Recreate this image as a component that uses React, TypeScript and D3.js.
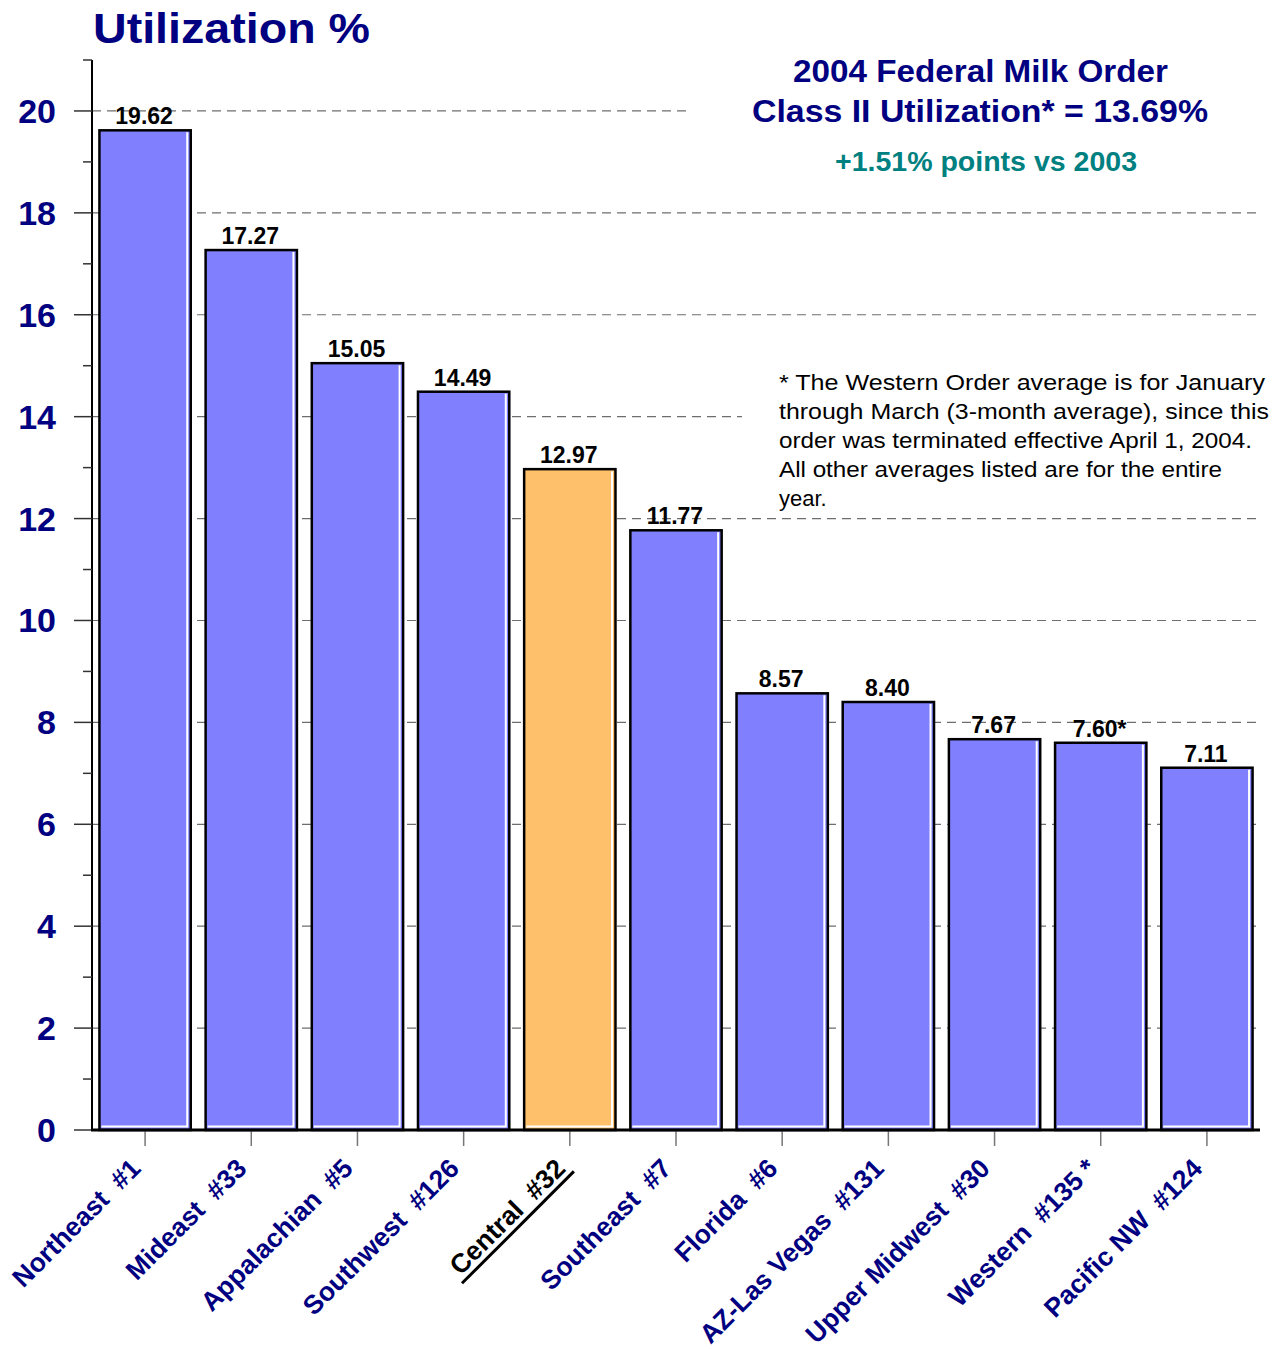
import React, { useEffect, useRef } from "react";
import * as d3 from "d3";

const categories = [
  "Northeast  #1",
  "Mideast  #33",
  "Appalachian  #5",
  "Southwest  #126",
  "Central  #32",
  "Southeast  #7",
  "Florida  #6",
  "AZ-Las Vegas  #131",
  "Upper Midwest  #30",
  "Western  #135 *",
  "Pacific NW  #124",
];
const values = [19.62, 17.27, 15.05, 14.49, 12.97, 11.77, 8.57, 8.4, 7.67, 7.6, 7.11];
const valueLabels = ["19.62", "17.27", "15.05", "14.49", "12.97", "11.77", "8.57", "8.40", "7.67", "7.60*", "7.11"];
const highlighted = ["Central  #32"];
const yMajorTicks = [0, 2, 4, 6, 8, 10, 12, 14, 16, 18, 20];
const yMinorTicks = [1, 3, 5, 7, 9, 11, 13, 15, 17, 19, 21];
const gridValues = [2, 4, 6, 8, 10, 12, 14, 16, 18, 20];
const yTitle = "Utilization %";
const titleLines = ["2004 Federal Milk Order", "Class II Utilization* = 13.69%"];
const subtitle = "+1.51% points vs 2003";
const footnoteLines = [
  "* The Western Order average is for January",
  "through March (3-month average), since this",
  "order was terminated effective April 1, 2004.",
  "All other averages listed are for the entire",
  "year.",
];

const W = 1280;
const H = 1349;
const FONT = "'Liberation Sans', Arial, Helvetica, sans-serif";
const NAVY = "#000080";
const TEAL = "#008080";

export default function App() {
  const ref = useRef<SVGSVGElement | null>(null);

  useEffect(() => {
    const svg = d3.select(ref.current);
    svg.selectAll("*").remove();

    const x = d3.scaleBand<string>().domain(categories).range([92, 1260]).paddingInner(0.14).paddingOuter(0.07);
    const y = d3.scaleLinear().domain([0, 21]).range([1130, 60]);

    svg.append("rect").attr("width", W).attr("height", H).attr("fill", "#ffffff");

    // gridlines
    svg
      .append("g")
      .selectAll("line")
      .data(gridValues)
      .join("line")
      .attr("x1", 92)
      .attr("x2", 1260)
      .attr("y1", (d) => y(d))
      .attr("y2", (d) => y(d))
      .attr("stroke", "#6e6e6e")
      .attr("stroke-width", 1.2)
      .attr("stroke-dasharray", "9,6");

    // white text boxes covering gridlines
    svg.append("rect").attr("x", 686).attr("y", 48).attr("width", 594).attr("height", 140).attr("fill", "#fff");
    svg.append("rect").attr("x", 742).attr("y", 366).attr("width", 538).attr("height", 146).attr("fill", "#fff");

    // bars
    const bw = x.bandwidth();
    const bars = svg.append("g");
    categories.forEach((c, i) => {
      const x0 = x(c)!;
      const yt = y(values[i]);
      const yb = y(0);
      bars
        .append("rect")
        .attr("x", x0)
        .attr("y", yt)
        .attr("width", bw)
        .attr("height", yb - yt)
        .attr("fill", highlighted.includes(c) ? "#FFC06B" : "#8080FF")
        .attr("stroke", "#000")
        .attr("stroke-width", 2.5);
      bars
        .append("path")
        .attr("d", `M${x0 + bw - 3.5},${yt + 2} L${x0 + bw - 3.5},${yb - 3.5} L${x0 + 2},${yb - 3.5}`)
        .attr("fill", "none")
        .attr("stroke", "#fff")
        .attr("stroke-width", 2);
      svg
        .append("text")
        .attr("x", x0 + bw / 2 - 1)
        .attr("y", yt - 6)
        .attr("text-anchor", "middle")
        .attr("font-family", FONT)
        .attr("font-weight", "bold")
        .attr("font-size", 23)
        .attr("fill", "#000")
        .text(valueLabels[i]);
    });

    // y axis
    const ya = svg.append("g");
    ya.append("line").attr("x1", 92).attr("x2", 92).attr("y1", y(21)).attr("y2", y(0)).attr("stroke", "#000").attr("stroke-width", 2);
    ya.selectAll("line.maj")
      .data(yMajorTicks)
      .join("line")
      .attr("class", "maj")
      .attr("x1", 74)
      .attr("x2", 92)
      .attr("y1", (d) => y(d))
      .attr("y2", (d) => y(d))
      .attr("stroke", "#333")
      .attr("stroke-width", 1.5);
    ya.selectAll("line.min")
      .data(yMinorTicks)
      .join("line")
      .attr("class", "min")
      .attr("x1", 83)
      .attr("x2", 92)
      .attr("y1", (d) => y(d))
      .attr("y2", (d) => y(d))
      .attr("stroke", "#333")
      .attr("stroke-width", 1.5);
    ya.selectAll("text")
      .data(yMajorTicks)
      .join("text")
      .attr("x", 56)
      .attr("y", (d) => y(d) + 12)
      .attr("text-anchor", "end")
      .attr("font-family", FONT)
      .attr("font-weight", "bold")
      .attr("font-size", 34)
      .attr("fill", NAVY)
      .text((d) => String(d));

    // x axis
    const xa = svg.append("g");
    xa.selectAll("line.tick")
      .data(categories)
      .join("line")
      .attr("class", "tick")
      .attr("x1", (d) => x(d)! + bw / 2)
      .attr("x2", (d) => x(d)! + bw / 2)
      .attr("y1", y(0))
      .attr("y2", y(0) + 16)
      .attr("stroke", "#777")
      .attr("stroke-width", 1.5);
    xa.append("line").attr("x1", 91).attr("x2", 1260).attr("y1", y(0)).attr("y2", y(0)).attr("stroke", "#000").attr("stroke-width", 3);

    categories.forEach((c) => {
      const cx = x(c)! + bw / 2;
      const g = xa.append("g").attr("transform", `translate(${cx - 3},${y(0) + 40}) rotate(-45)`);
      const isHi = highlighted.includes(c);
      const t = g
        .append("text")
        .attr("x", 0)
        .attr("y", 0)
        .attr("text-anchor", "end")
        .attr("font-family", FONT)
        .attr("font-weight", "bold")
        .attr("font-size", 26.5)
        .attr("fill", isHi ? "#000" : NAVY)
        .style("white-space", "pre")
        .text(c);
      if (isHi) {
        const len = (t.node() as SVGTextElement).getComputedTextLength();
        g.append("line")
          .attr("x1", -len - 4)
          .attr("x2", 4)
          .attr("y1", 6)
          .attr("y2", 6)
          .attr("stroke", "#000")
          .attr("stroke-width", 3);
      }
    });

    // y title
    svg
      .append("text")
      .attr("x", 93)
      .attr("y", 43)
      .attr("font-family", FONT)
      .attr("font-weight", "bold")
      .attr("font-size", 42)
      .attr("fill", NAVY)
      .attr("textLength", 277)
      .attr("lengthAdjust", "spacingAndGlyphs")
      .text(yTitle);

    // title block
    const tl = [
      { t: titleLines[0], x: 793, y: 82, w: 375, fs: 31, c: NAVY },
      { t: titleLines[1], x: 752, y: 122, w: 456, fs: 31, c: NAVY },
      { t: subtitle, x: 835, y: 171, w: 302, fs: 27, c: TEAL },
    ];
    tl.forEach((d) => {
      svg
        .append("text")
        .attr("x", d.x)
        .attr("y", d.y)
        .attr("font-family", FONT)
        .attr("font-weight", "bold")
        .attr("font-size", d.fs)
        .attr("fill", d.c)
        .attr("textLength", d.w)
        .attr("lengthAdjust", "spacingAndGlyphs")
        .text(d.t);
    });

    // footnote
    const fnWidths = [486, 490, 473, 443, 0];
    footnoteLines.forEach((line, i) => {
      const t = svg
        .append("text")
        .attr("x", 779)
        .attr("y", 390 + i * 29)
        .attr("font-family", FONT)
        .attr("font-size", 22)
        .attr("fill", "#000")
        .text(line);
      if (fnWidths[i] > 0) t.attr("textLength", fnWidths[i]).attr("lengthAdjust", "spacingAndGlyphs");
    });
  }, []);

  return (
    <div style={{ position: "absolute", left: 0, top: 0 }}>
      <svg ref={ref} width={W} height={H} style={{ display: "block" }} />
    </div>
  );
}
